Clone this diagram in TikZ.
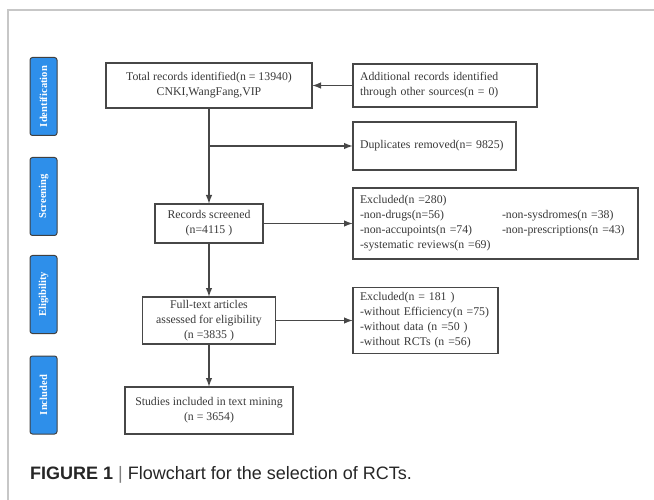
\documentclass[tikz,border=0pt]{standalone}
\usepackage{fontspec}
\setmainfont{Liberation Serif}
\newfontfamily\capfont{Liberation Sans}
\usetikzlibrary{positioning,arrows.meta}
\definecolor{stageblue}{HTML}{2E8FEA}
\definecolor{boxgray}{HTML}{474747}
\definecolor{txtgray}{HTML}{383838}
\begin{document}
\begin{tikzpicture}[x=1pt, y=-1pt, node distance = 0pt,
BoxStyle/.style={draw=boxgray, line width=1.4pt, inner sep=0pt, outer sep=0pt,
                text=txtgray, font=\fontsize{11.8}{15}\selectfont},
CtrBox/.style={BoxStyle, align=center},
LeftBox/.style={BoxStyle, align=left, text width=#1},
StageStyle/.style={draw=black!75, fill=stageblue, line width=1pt, rounded corners=2.5pt,
                rotate=90, minimum width=78pt, minimum height=27pt, inner sep=0pt,
                text=white, font=\bfseries\fontsize{10.6}{12}\selectfont},
ArrowStyle/.style={draw=boxgray, line width=1.4pt, -{Latex[length=9pt,width=6.5pt]}},
FrameLine/.style={draw=black!22, line width=1.2pt},]
\useasboundingbox (0,0) rectangle (654,500);
\draw[FrameLine] (8,500) -- (8,10) -- (654,10);

% stages on the left
\node [StageStyle] (s1) at (43.5, 96.5) {Identification};
\node [StageStyle] (s2) at (43.5, 196.5) {Screening};
\node [StageStyle] (s3) at (43.5, 294.5) {Eligibility};
\node [StageStyle] (s4) at (43.5, 395) {Included};

% main column
\node [CtrBox, minimum width=206pt, minimum height=45pt] (total) at (209, 85.5)
  {Total records identified(n = 13940)\\CNKI,WangFang,VIP};
\node [CtrBox, minimum width=108pt, minimum height=39pt] (screen) at (209, 223.5)
  {Records screened\\(n=4115 )};
\node [CtrBox, minimum width=133pt, minimum height=47pt] (full) at (209, 320.5)
  {\raisebox{-2pt}{\parbox{133pt}{\centering Full-text articles\\assessed for eligibility\\(n =3835 )}}};
\node [CtrBox, minimum width=168pt, minimum height=47pt] (study) at (209, 410.5)
  {Studies included in text mining\\(n = 3654)};

% side column
\node [LeftBox=170pt, minimum width=184pt, minimum height=43pt] (add) at (445, 85.5)
  {Additional records identified\\through other sources(n = 0)};
\node [LeftBox=149pt, minimum width=163pt, minimum height=48pt] (dup) at (434.5, 146)
  {Duplicates removed(n= 9825)};
\node [LeftBox=271pt, minimum width=285pt, minimum height=71pt] (excl1) at (495.5, 223.5)
  {Excluded(n =280)\\
   \makebox[142pt][l]{-non-drugs(n=56)}-non-sysdromes(n =38)\\
   \makebox[142pt][l]{-non-accupoints(n =74)}-non-prescriptions(n =43)\\
   -systematic reviews(n =69)};
\node [LeftBox=131pt, minimum width=145pt, minimum height=66pt] (excl2) at (425.5, 320.5)
  {Excluded(n = 181 )\\-without Efficiency(n =75)\\-without data (n =50 )\\-without RCTs (n =56)};

\coordinate (branch) at (total.south |- dup.west);

\draw[ArrowStyle] (add) -- (total);
\draw[ArrowStyle] (total) -- (screen);
\draw[ArrowStyle] (branch) -- (dup);
\draw[ArrowStyle] (screen) -- (excl1);
\draw[ArrowStyle] (screen) -- (full);
\draw[ArrowStyle] (full) -- (excl2);
\draw[ArrowStyle] (full) -- (study);

% caption
\node [anchor=base west, inner sep=0pt, text=black!85, font=\capfont\fontsize{18}{20}\selectfont] (cap) at (30, 479)
  {\textbf{FIGURE 1} \textcolor{black!50}{|} Flowchart for the selection of RCTs.};
\end{tikzpicture}
\end{document}
